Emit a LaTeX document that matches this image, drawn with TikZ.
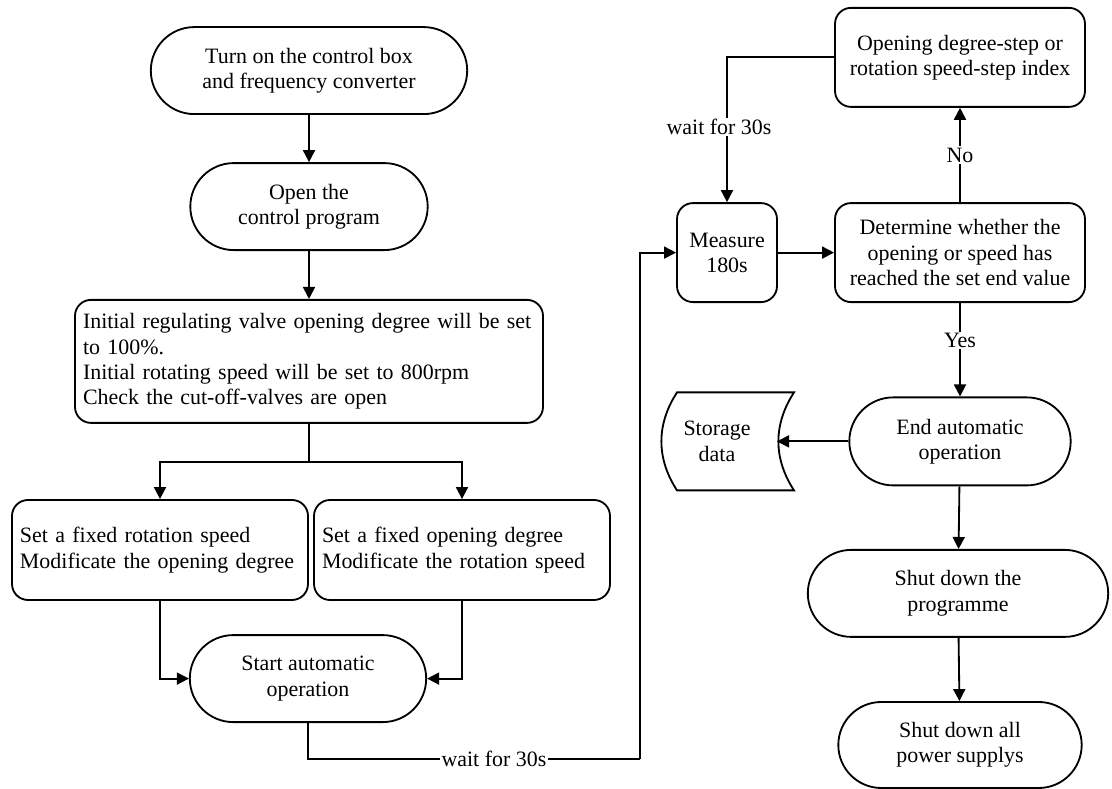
\documentclass[tikz,border=0pt]{standalone}
\usepackage{fontspec}
\setmainfont{Liberation Serif}
\usetikzlibrary{positioning,arrows.meta,shapes.misc,calc}

\begin{document}
\begin{tikzpicture}[
    line width=1.3pt,
    every node/.style={font=\fontsize{15.6}{18}\selectfont},
    term/.style={draw,rounded rectangle,align=center,inner sep=2pt},
    proc/.style={draw,rounded corners=0.4cm,align=center,inner sep=2pt},
    note/.style={draw,rounded corners=0.4cm,align=left,inner xsep=0.2cm},
    lbl/.style={fill=white,inner sep=1pt},
    arr/.style={-{Triangle[length=0.3cm,width=0.3cm]}},
]
\useasboundingbox (0,0) rectangle (27.8,19.725);

% left column
\node[term,minimum width=8.05cm,minimum height=2.175cm] (poweron) at (7.725,17.96) {Turn on the control box\\and frequency converter};
\node[term,minimum width=6.075cm,minimum height=2.175cm] (openprog) at (7.725,14.56) {Open the\\control program};
\node[note,text width=11.3cm,minimum height=3.075cm] (init) at (7.725,10.69) {Initial regulating valve opening degree will be set\\to 100\%.\\Initial rotating speed will be set to 800rpm\\Check the cut-off-valves are open};
\node[note,text width=7.0cm,minimum height=2.5cm] (fixspeed) at (4.0,5.975) {Set a fixed rotation speed\\Modificate the opening degree};
\node[note,text width=7.0cm,minimum height=2.5cm] (fixopen) at (11.55,5.975) {Set a fixed opening degree\\Modificate the rotation speed};
\node[term,minimum width=6.05cm,minimum height=2.175cm] (startauto) at (7.7,2.76) {Start automatic\\operation};

% right column
\node[proc,minimum width=2.5cm,minimum height=2.475cm] (measure) at (18.175,13.41) {Measure\\180s};
\node[proc,minimum width=6.25cm,minimum height=2.475cm] (judge) at (24.0,13.41) {Determine whether the\\opening or speed has\\reached the set end value};
\node[proc,minimum width=6.25cm,minimum height=2.475cm] (stepidx) at (24.0,18.29) {Opening degree-step or\\rotation speed-step index};
\node[term,minimum width=5.675cm,minimum height=2.2cm] (endauto) at (24.0,8.69) {End automatic\\operation};
\node[align=center] (store) at (17.925,8.69) {Storage\\data};
\node[term,minimum width=7.65cm,minimum height=2.175cm] (shutprog) at (23.95,4.89) {Shut down the\\programme};
\node[term,minimum width=6.225cm,minimum height=2.15cm] (shutall) at (24.0,1.1) {Shut down all\\power supplys};

% stored data symbol around the text
\draw ([shift={(-1.0,1.225)}]store.center) to[bend right=33] ([shift={(-1.0,-1.225)}]store.center)
  -- ([shift={(1.925,-1.225)}]store.center) to[bend left=33] ([shift={(1.925,1.225)}]store.center) -- cycle;
\coordinate (storein) at ([shift={(1.5,0)}]store.center);

\coordinate (split) at (7.725,8.175);
\coordinate (lowturn) at (16.0,0.75);

\draw[arr] (poweron) -- (openprog);
\draw[arr] (openprog) -- (init);
\draw (init.south) -- (split);
\draw[arr] (split) -| (fixspeed.north);
\draw[arr] (split) -| (fixopen.north);
\draw[arr] (fixspeed.south) |- (startauto.west);
\draw[arr] (fixopen.south) |- (startauto.east);
\draw (startauto.south) |- node[lbl,pos=0.78] {wait for 30s} (lowturn);
\draw[arr] (lowturn) |- (measure.west);
\draw[arr] (measure) -- (judge);
\draw[arr] (judge) -- node[lbl] {No} (stepidx);
\draw[arr] (stepidx.west) -| node[lbl,pos=0.74,xshift=-0.2cm] {wait for 30s} (measure.north);
\draw[arr] (judge) -- node[lbl,pos=0.4] {Yes} (endauto);
\draw[arr] (endauto.west) -- (storein);
\draw[arr] (endauto) -- (shutprog);
\draw[arr] (shutprog) -- (shutall);
\end{tikzpicture}
\end{document}
